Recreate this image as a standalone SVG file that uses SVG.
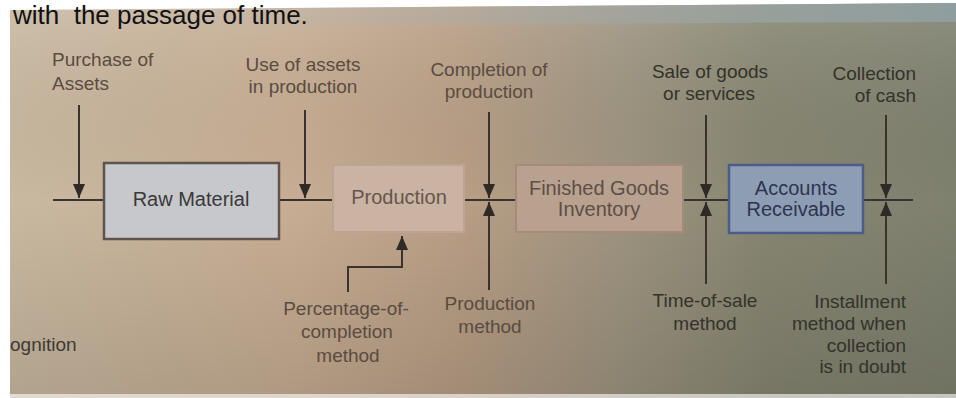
<svg xmlns="http://www.w3.org/2000/svg" width="956" height="398" viewBox="0 0 956 398">
  <defs>
    <linearGradient id="bg" x1="0" y1="0" x2="1" y2="0">
      <stop offset="0" stop-color="#c9b9a1"/>
      <stop offset="0.3" stop-color="#c7ad93"/>
      <stop offset="0.48" stop-color="#b89e85"/>
      <stop offset="0.65" stop-color="#9d9480"/>
      <stop offset="0.8" stop-color="#878672"/>
      <stop offset="1" stop-color="#7f816f"/>
    </linearGradient>
    <linearGradient id="shade" x1="0" y1="0" x2="0" y2="1">
      <stop offset="0" stop-color="#ffffff" stop-opacity="0.12"/>
      <stop offset="0.5" stop-color="#000000" stop-opacity="0"/>
      <stop offset="1" stop-color="#000000" stop-opacity="0.12"/>
    </linearGradient>
    <linearGradient id="topband" x1="0" y1="0" x2="1" y2="0">
      <stop offset="0" stop-color="#c8c2b8" stop-opacity="0"/>
      <stop offset="0.5" stop-color="#a8aaa6" stop-opacity="0.5"/>
      <stop offset="1" stop-color="#8ea0a2" stop-opacity="0.9"/>
    </linearGradient>
    <marker id="ah" viewBox="0 0 14 12" refX="14" refY="6" markerWidth="14" markerHeight="12" markerUnits="userSpaceOnUse" orient="auto">
      <path d="M0,0 L14,6 L0,12 z" fill="#2f2a26"/>
    </marker>
    <style>
      .lbl { font-family: "Liberation Sans", Arial, sans-serif; font-size: 19px; }
      .box { font-family: "Liberation Sans", Arial, sans-serif; font-size: 20px; text-anchor: middle; }
      .c { text-anchor: middle; }
      .r { text-anchor: end; }
      .warm { fill: #5a4c40; }
      .dark { fill: #33332a; }
      .ln { stroke: #3a332d; stroke-width: 2; fill: none; }
      .arr { stroke: #3a332d; stroke-width: 2; fill: none; marker-end: url(#ah); }
    </style>
  </defs>

  <rect x="0" y="0" width="956" height="398" fill="#ffffff"/>
  <polygon points="10,10 956,3 956,398 10,398" fill="url(#bg)"/>
  <polygon points="10,10 956,3 956,398 10,398" fill="url(#shade)"/>
  <polygon points="10,10 956,3 956,22 10,26" fill="url(#topband)"/>
  <rect x="10" y="394" width="946" height="4" fill="#ffffff" opacity="0.6"/>

  <text x="13" y="24" font-family="Liberation Sans, Arial, sans-serif" font-size="26" fill="#111111" style="white-space:pre">with  the passage of time.</text>

  <g id="connectors">
    <line class="ln" x1="53" y1="200" x2="913" y2="200"/>
    <line class="arr" x1="79" y1="105" x2="79" y2="198"/>
    <line class="arr" x1="305" y1="110" x2="305" y2="198"/>
    <line class="arr" x1="489" y1="112" x2="489" y2="198"/>
    <line class="arr" x1="489" y1="290" x2="489" y2="202"/>
    <line class="arr" x1="706" y1="115" x2="706" y2="198"/>
    <line class="arr" x1="706" y1="284" x2="706" y2="202"/>
    <line class="arr" x1="886" y1="115" x2="886" y2="198"/>
    <line class="arr" x1="886" y1="284" x2="886" y2="202"/>
    <polyline class="arr" points="348,292 348,267 402,267 402,236"/>
  </g>

  <g id="raw-material">
    <rect x="104" y="163" width="175" height="76" fill="#c7c8cc" stroke="#5c544d" stroke-width="2.5"/>
    <text class="box" x="191" y="206" fill="#3a3838">Raw Material</text>
  </g>
  <g id="production">
    <rect x="333" y="165" width="131" height="67" fill="#cab3a3" stroke="#bca592" stroke-width="2"/>
    <text class="box" x="399" y="204" fill="#65564c">Production</text>
  </g>
  <g id="finished-goods">
    <rect x="516" y="165" width="167" height="67" fill="#b9a190" stroke="#a88a78" stroke-width="2"/>
    <text class="box" x="599" y="195" fill="#5c4f45">Finished Goods</text>
    <text class="box" x="599" y="216" fill="#5c4f45">Inventory</text>
  </g>
  <g id="accounts-receivable">
    <rect x="729" y="165" width="134" height="68" fill="#8d9db4" stroke="#4d5c88" stroke-width="2.5"/>
    <text class="box" x="796" y="195" fill="#2d3450">Accounts</text>
    <text class="box" x="796" y="216" fill="#2d3450">Receivable</text>
  </g>

  <g id="purchase-of-assets">
    <text class="lbl warm" x="52" y="66">Purchase of</text>
    <text class="lbl warm" x="52" y="90">Assets</text>
  </g>
  <g id="use-of-assets">
    <text class="lbl warm c" x="303" y="71">Use of assets</text>
    <text class="lbl warm c" x="303" y="93">in production</text>
  </g>
  <g id="completion-of-production">
    <text class="lbl warm c" x="489" y="76">Completion of</text>
    <text class="lbl warm c" x="489" y="98">production</text>
  </g>
  <g id="sale-of-goods">
    <text class="lbl dark c" x="710" y="78">Sale of goods</text>
    <text class="lbl dark c" x="709" y="100">or services</text>
  </g>
  <g id="collection-of-cash">
    <text class="lbl dark r" x="916" y="80">Collection</text>
    <text class="lbl dark r" x="916" y="102">of cash</text>
  </g>
  <g id="percentage-of-completion">
    <text class="lbl warm c" x="346" y="315">Percentage-of-</text>
    <text class="lbl warm c" x="347" y="338">completion</text>
    <text class="lbl warm c" x="348" y="362">method</text>
  </g>
  <g id="production-method">
    <text class="lbl warm c" x="490" y="310">Production</text>
    <text class="lbl warm c" x="490" y="333">method</text>
  </g>
  <g id="time-of-sale">
    <text class="lbl dark c" x="705" y="307">Time-of-sale</text>
    <text class="lbl dark c" x="705" y="330">method</text>
  </g>
  <g id="installment-method">
    <text class="lbl dark r" x="906" y="308">Installment</text>
    <text class="lbl dark r" x="906" y="330">method when</text>
    <text class="lbl dark r" x="906" y="352">collection</text>
    <text class="lbl dark r" x="906" y="373">is in doubt</text>
  </g>
  <g id="recognition">
    <text class="lbl" x="10" y="351" font-size="20" fill="#3e3a34">ognition</text>
  </g>
</svg>
